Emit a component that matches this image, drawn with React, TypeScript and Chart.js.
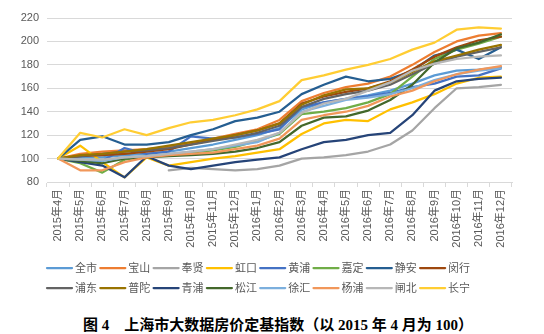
import React, { useEffect, useRef } from 'react';
import { Chart, registerables } from 'chart.js';

Chart.register(...registerables);

const months = [
  '2015年4月', '2015年5月', '2015年6月', '2015年7月', '2015年8月', '2015年9月',
  '2015年10月', '2015年11月', '2015年12月', '2016年1月', '2016年2月', '2016年3月',
  '2016年4月', '2016年5月', '2016年6月', '2016年7月', '2016年8月', '2016年9月',
  '2016年10月', '2016年11月', '2016年12月',
];

const seriesNames = ['全市', '宝山', '奉贤', '虹口', '黄浦', '嘉定', '静安', '闵行', '浦东', '普陀', '青浦', '松江', '徐汇', '杨浦', '闸北', '长宁'];
const seriesColors = ['#5B9BD5', '#ED7D31', '#A5A5A5', '#FFC000', '#4472C4', '#70AD47', '#255E91', '#9E480E', '#636363', '#997300', '#264478', '#43682B', '#7CAFDD', '#F1975A', '#B7B7B7', '#FFCD33'];

const quanshi = [100, 101, 101, 103, 104, 106, 109, 112, 116, 120, 126, 142, 148, 151, 154, 158, 164, 171, 175, 176, 178];
const baoshan = [100, 104, 106, 107, 108, 110, 113, 117, 121, 125, 133, 149, 156, 161, 164, 170, 180, 191, 200, 205, 207];
const fengxian = [null, null, null, null, null, 90, 92, 91, 90, 91, 94, 100, 101, 103, 106, 112, 124, 143, 160, 161, 163];
const hongkou = [100, 111, 97, 84, 101, 94, 97, 100, 102, 105, 108, 121, 130, 133, 132, 142, 148, 155, 164, 169, 170];
const huangpu = [100, 98, 98, 109, 104, 106, 119, 117, 118, 121, 125, 144, 148, 151, 153, 156, 161, 164, 170, 171, 177];
const jiading = [100, 96, 88, 99, 102, 103, 105, 107, 110, 115, 121, 138, 140, 143, 148, 155, 170, 185, 193, 198, 204];
const jingan = [100, 116, 119, 112, 112, 114, 120, 125, 132, 135, 140, 155, 163, 170, 166, 168, 175, 188, 193, 185, 195];
const minhang = [100, 102, 103, 104, 106, 108, 112, 116, 120, 124, 130, 147, 153, 157, 160, 166, 176, 187, 195, 201, 204];
const pudong = [100, 102, 104, 106, 107, 109, 112, 115, 118, 122, 128, 144, 151, 155, 158, 163, 172, 181, 187, 191, 195];
const putuo = [100, 103, 104, 106, 108, 111, 114, 117, 120, 124, 130, 146, 154, 159, 160, 165, 174, 183, 188, 193, 197];
const qingpu = [100, 97, 94, 84, 102, 94, 91, 94, 97, 99, 101, 108, 114, 116, 120, 122, 137, 158, 166, 168, 169];
const songjiang = [100, 98, 96, 100, 101, 102, 103, 104, 106, 109, 114, 128, 135, 136, 141, 150, 163, 182, 194, 199, 206];
const xuhui = [100, 99, 98, 101, 102, 104, 106, 108, 111, 114, 122, 140, 145, 150, 152, 155, 160, 167, 172, 175, 177];
const yangpu = [100, 90, 90, 97, 101, 103, 104, 105, 108, 111, 117, 133, 137, 140, 145, 153, 158, 166, 172, 176, 179];
const zhabei = [100, 99, 99, 101, 102, 104, 106, 108, 112, 116, 122, 139, 147, 151, 158, 165, 175, 181, 185, 187, 188];
const changning = [100, 122, 118, 125, 120, 126, 131, 133, 137, 142, 149, 167, 171, 176, 180, 185, 193, 199, 210, 212, 211];

const seriesValues = [quanshi, baoshan, fengxian, hongkou, huangpu, jiading, jingan, minhang, pudong, putuo, qingpu, songjiang, xuhui, yangpu, zhabei, changning];

const yMin = 80;
const yMax = 220;
const yStep = 20;

const caption = '图 4\u3000上海市大数据房价定基指数（以 2015 年 4 月为 100）';

const FONT = '"Liberation Sans", "Noto Sans CJK SC", sans-serif';
const CJK_FONT = '"Noto Sans CJK SC", "Liberation Sans", sans-serif';

const rowLegend = {
  id: 'rowLegend',
  afterDraw(chart: any) {
    const ctx = chart.ctx;
    ctx.save();
    ctx.font = '11px ' + CJK_FONT;
    ctx.textBaseline = 'middle';
    ctx.textAlign = 'left';
    const x0 = 47;
    const pitch = 53.3;
    const rowY = [268, 288];
    chart.data.datasets.forEach((ds: any, i: number) => {
      const row = Math.floor(i / 8);
      const col = i % 8;
      const x = x0 + col * pitch;
      const y = rowY[row];
      ctx.strokeStyle = ds.borderColor;
      ctx.lineWidth = 2.25;
      ctx.lineCap = 'round';
      ctx.beginPath();
      ctx.moveTo(x, y);
      ctx.lineTo(x + 25, y);
      ctx.stroke();
      ctx.fillStyle = '#595959';
      ctx.fillText(ds.label, x + 28, y);
    });
    ctx.restore();
  },
};

export default function App() {
  const canvasRef = useRef<HTMLCanvasElement | null>(null);

  useEffect(() => {
    document.body.style.margin = '0';
    const canvas = canvasRef.current;
    if (!canvas) return;
    const chart = new Chart(canvas, {
      type: 'line',
      data: {
        labels: months,
        datasets: seriesNames.map((name, i) => ({
          label: name,
          data: seriesValues[i],
          borderColor: seriesColors[i],
          backgroundColor: seriesColors[i],
          borderWidth: 2.25,
          pointRadius: 0,
          pointHoverRadius: 0,
          tension: 0,
          fill: false,
          spanGaps: false,
          borderCapStyle: 'round',
          borderJoinStyle: 'round',
          order: seriesNames.length - 1 - i,
        })),
      },
      options: {
        responsive: false,
        animation: false,
        devicePixelRatio: 1,
        layout: { padding: { top: 18, right: 32, bottom: 50, left: 0 } },
        plugins: {
          legend: { display: false },
          tooltip: { enabled: false },
          title: { display: false },
        },
        scales: {
          x: {
            type: 'category',
            offset: true,
            grid: {
              display: true,
              drawOnChartArea: false,
              drawTicks: true,
              tickLength: 5,
              offset: true,
              color: '#D9D9D9',
            },
            border: { display: true, color: '#D9D9D9', width: 1 },
            ticks: {
              color: '#595959',
              font: { size: 11, family: FONT },
              minRotation: 90,
              maxRotation: 90,
              autoSkip: false,
              padding: 2,
            },
            afterFit: (scale: any) => {
              scale.height = 68;
            },
          },
          y: {
            min: yMin,
            max: yMax,
            grid: { color: '#D9D9D9', lineWidth: 1, drawTicks: false },
            border: { display: false },
            ticks: {
              stepSize: yStep,
              color: '#595959',
              font: { size: 11, family: FONT },
              padding: 8,
            },
            afterFit: (scale: any) => {
              scale.width = 47;
            },
          },
        },
      },
      plugins: [rowLegend],
    });
    return () => chart.destroy();
  }, []);

  return (
    <div style={{ position: 'relative', width: 544, height: 334, background: '#fff', overflow: 'hidden' }}>
      <canvas ref={canvasRef} width={544} height={300} style={{ position: 'absolute', left: 0, top: 0, width: 544, height: 300 }} />
      <div
        style={{
          position: 'absolute',
          left: 83,
          top: 317,
          whiteSpace: 'pre',
          fontFamily: '"Liberation Serif", "Noto Sans CJK SC", serif',
          fontWeight: 'bold',
          fontSize: 15,
          lineHeight: '16px',
          color: '#000',
        }}
      >
        {caption}
      </div>
    </div>
  );
}
